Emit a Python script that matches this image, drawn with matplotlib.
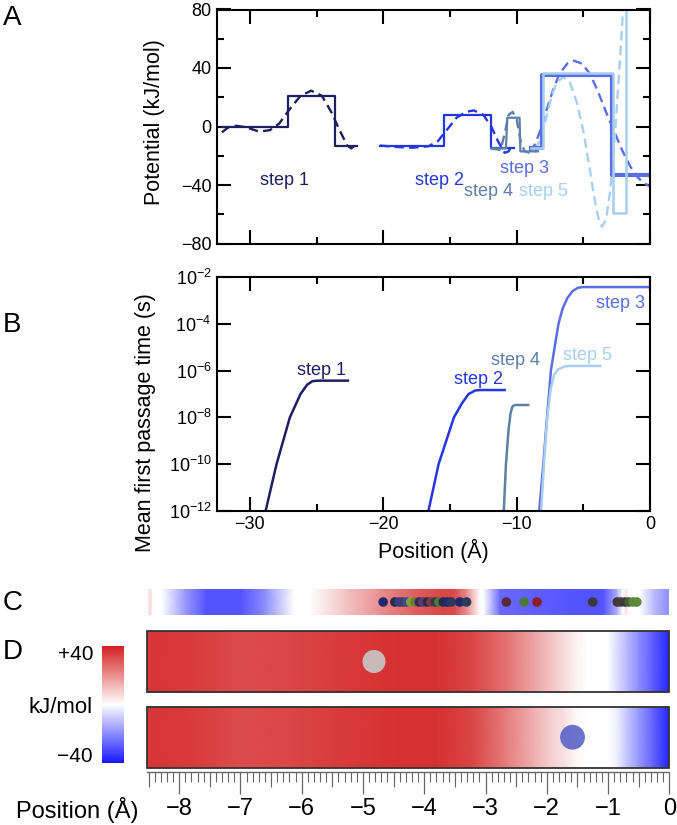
import numpy as np
import matplotlib
matplotlib.use('Agg')
import matplotlib.pyplot as plt
from matplotlib.colors import LinearSegmentedColormap, Normalize
from matplotlib.patches import Rectangle
from matplotlib.ticker import MultipleLocator, FixedLocator, FuncFormatter, NullLocator
import matplotlib.cm as cm

plt.rcParams['font.family'] = ['Liberation Sans', 'DejaVu Sans']
plt.rcParams['mathtext.fontset'] = 'custom'
plt.rcParams['mathtext.rm'] = 'Liberation Sans'
plt.rcParams['mathtext.it'] = 'Liberation Sans:italic'

# ---------------- data ----------------
# panel A: step potentials (solid) and fitted curves (dashed), kJ/mol
s1_x = [-32.1, -27.17, -27.17, -23.64, -23.64, -21.95]
s1_y = [0, 0, 20.7, 20.7, -13, -13]
s1d_x = [-32.1, -31.6, -31.0, -30.3, -29.3, -28.5, -27.8, -27.0, -26.2, -25.4, -24.6, -23.9, -23.3, -22.7, -22.4, -21.95]
s1d_y = [-4, -0.5, 0.5, -0.5, -3.5, -2.5, 2, 12, 21, 24.5, 21, 10, -2, -13, -15, -12]

s2_x = [-20.25, -15.47, -15.47, -11.95, -11.95, -10.2]
s2_y = [-13, -13, 7.8, 7.8, -15, -15]
s2d_x = [-20.25, -19.0, -17.8, -16.6, -15.9, -15.2, -14.5, -13.8, -13.2, -12.5, -11.9, -11.4, -10.9, -10.6, -10.3]
s2d_y = [-13, -14, -14.5, -13.5, -10, -2, 6, 10, 11, 8, 0, -10, -18, -17, -12]

s4_x = [-11.9, -10.8, -10.7, -9.78, -9.72, -8.4]
s4_y = [-15, -15, 6, 6, -17, -17]
s4d_x = [-11.9, -11.2, -10.9, -10.6, -10.3, -10.0, -9.7, -9.4, -9.0, -8.6, -8.3]
s4d_y = [-15, -16, -5, 8, 10, 5, -10, -17, -18, -17, -15]

s3_x = [-8.9, -8.1, -8.1, -2.87, -2.87, 0]
s3_y = [-15, -15, 35, 35, -33, -33]
s3d_x = [-9.0, -8.6, -8.2, -7.8, -7.3, -6.8, -6.2, -5.7, -5.1, -4.5, -3.9, -3.3, -2.7, -2.1, -1.5, -0.9, -0.4, 0]
s3d_y = [-17, -12, -2, 10, 24, 36, 43, 45, 43, 36, 24, 10, -3, -16, -27, -35, -39, -41]

s5_x = [-8.9, -8.02, -8.02, -2.8, -2.8, -1.77, -1.77]
s5_y = [-15, -15, 36.5, 36.5, -59.3, -59.3, 95]
s5d_x = [-8.6, -8.2, -7.8, -7.4, -7.0, -6.5, -6.0, -5.5, -5.0, -4.5, -4.1, -3.8, -3.6, -3.3, -3.0, -2.7, -2.4, -2.15, -2.0]
s5d_y = [-16, -8, 5, 20, 30, 34, 30, 17, -3, -30, -53, -65, -68.5, -64, -45, -15, 25, 60, 85]

# panel B: mean first passage time, log10(seconds)
m1_x = [-28.9, -28.0, -27.0, -26.2, -25.7, -25.3, -24.9, -22.65]
m1_e = [-12.2, -10, -8, -7, -6.6, -6.45, -6.43, -6.43]
m2_x = [-16.65, -15.85, -14.7, -14.1, -13.6, -13.1, -12.7, -10.9]
m2_e = [-12.1, -10, -8, -7.4, -7.0, -6.85, -6.83, -6.83]
m4_x = [-10.97, -10.8, -10.6, -10.45, -10.3, -10.1, -9.13]
m4_e = [-12.1, -10, -8.5, -7.8, -7.52, -7.47, -7.47]
m3_x = [-8.32, -8.0, -7.72, -7.43, -7.15, -6.86, -6.55, -6.2, -5.8, -5.4, -5.0, 0]
m3_e = [-12.1, -10, -8, -6, -5, -4, -3.35, -2.9, -2.6, -2.46, -2.43, -2.43]
m5_x = [-8.17, -7.95, -7.7, -7.45, -7.2, -6.9, -6.4, -6.0, -3.73]
m5_e = [-12.1, -10, -8, -6.8, -6.2, -5.95, -5.82, -5.8, -5.8]

step_names = ['step 1', 'step 2', 'step 3', 'step 4', 'step 5']
step_colors = ['#1c2060', '#2436e0', '#5a6ee6', '#5d7fa8', '#a8cff0']
labA_x = [-27.43, -15.79, -9.44, -12.13, -7.96]
labA_y = [-36.7, -36.7, -28.7, -44.7, -44.7]
labB_x = [-24.61, -12.86, -2.19, -10.1, -4.69]
labB_e = [-6.0, -6.4, -3.14, -5.57, -5.36]

# panel C: electrostatic strip (kJ/mol) and ion positions (Angstrom)
c_pos = [-8.53, -8.47, -8.43, -8.28, -7.9, -7.55, -7.0, -6.6, -6.13, -5.86, -5.3, -4.7, -4.2,
         -3.7, -3.5, -3.3, -3.09, -3.03, -2.76, -1.5, -1.08, -0.85, -0.76, -0.70, -0.66,
         -0.48, -0.25, 0]
c_val = [0, 7, 0, 0, -18, -30, -30, -20, 0, 0, 10, 20, 28,
         33, 32, 20, 0, 0, -26, -30, -30, -14, 0, 5, 0,
         0, -12, -20]
ion_x = [-4.67, -4.48, -4.41, -4.35, -4.28, -4.22, -4.15, -4.08, -4.02, -3.95, -3.89, -3.82,
         -3.76, -3.69, -3.62, -3.56, -3.42, -3.31, -2.66, -2.37, -2.16, -1.25,
         -0.85, -0.79, -0.72, -0.66, -0.59, -0.53]
ion_c = ['#1f2a6e', '#2a2a4a', '#3a3a8a', '#4a3a6a', '#2f4f8f', '#8a9a3a', '#6a7a3a', '#3a2a4a',
         '#5a3a7a', '#2a2a3a', '#7a3a4a', '#3a3a3a', '#4a7a3a', '#2a2a4a', '#1f2a6e', '#2a3a5a',
         '#1f2a6e', '#2a3a5a', '#5a2a3a', '#4a7a3a', '#8a2020', '#3a3a3a',
         '#3a3a3a', '#4a3a3a', '#3a3a3a', '#4a5a3a', '#5a8a3a', '#5a8a3a']

# panel D: potential along the pore for two configurations (kJ/mol)
d_pos = [-8.53, -7.8, -7.0, -6.2, -5.3, -4.4, -3.8, -3.2, -2.65, -2.2, -1.95, -1.7, -1.5,
         -1.35, -1.0, -0.85, -0.7, -0.5, -0.27, 0]
d_val1 = [36, 35, 32, 33, 35, 37, 37, 33, 25, 16, 11, 6, 2, 0, 0, -6, -12, -20, -28, -38]
d_val2 = [36, 35, 32, 33, 35, 37, 37, 33, 23, 14, 9, 5, 1, 0, 0, -3, -10, -18, -27, -38]
sphere_x = [-4.82, -1.58]
sphere_c = ['#c8c8c8', '#5a64c8']

# ---------------- figure ----------------
W, H = 677, 825
fig = plt.figure(figsize=(W / 100, H / 100), dpi=100)

def box(l, t, r, b):
    return [l / W, 1 - b / H, (r - l) / W, (b - t) / H]

cmap = LinearSegmentedColormap.from_list('pot', [(0, '#1a1aff'), (0.5, 'white'), (1, '#d42020')])
norm = Normalize(-40, 40)

def style_ax(ax):
    for s in ax.spines.values():
        s.set_linewidth(1.5)
    ax.tick_params(which='both', direction='in', top=True, right=True, width=1.5, labelsize=13)
    ax.tick_params(which='major', length=10)
    ax.tick_params(which='minor', length=5)
    ax.set_xlim(-32.5, 0)
    ax.xaxis.set_major_locator(MultipleLocator(10))
    ax.xaxis.set_minor_locator(MultipleLocator(5))

# ---- A ----
axA = fig.add_axes(box(216.5, 9.5, 650, 243.5))
style_ax(axA)
dash = (0, (4, 2.2))
solids = [(s1_x, s1_y), (s2_x, s2_y), (s3_x, s3_y), (s4_x, s4_y), (s5_x, s5_y)]
dashed = [(s1d_x, s1d_y), (s2d_x, s2d_y), (s3d_x, s3d_y), (s4d_x, s4d_y), (s5d_x, s5d_y)]
lws = [1.6, 1.6, 3.0, 1.6, 1.8]
for i in [0, 1, 3, 2, 4]:
    axA.plot(*dashed[i], color=step_colors[i], lw=1.7, ls=dash)
for i in [0, 1, 3, 2, 4]:
    axA.plot(*solids[i], color=step_colors[i], lw=lws[i])
for i in range(5):
    axA.text(labA_x[i], labA_y[i], step_names[i], color=step_colors[i], fontsize=13,
             ha='center', va='center')
axA.set_ylim(-80, 80)
axA.yaxis.set_major_locator(MultipleLocator(40))
axA.yaxis.set_minor_locator(MultipleLocator(20))
axA.tick_params(labelbottom=False)
axA.set_ylabel('Potential (kJ/mol)', fontsize=15.5)
axA.yaxis.set_label_coords(-0.118, 0.52)

# ---- B ----
axB = fig.add_axes(box(216.5, 277, 650, 511))
style_ax(axB)
mfpt = [(m1_x, m1_e), (m2_x, m2_e), (m3_x, m3_e), (m4_x, m4_e), (m5_x, m5_e)]
for i in [0, 1, 3, 2, 4]:
    axB.plot(mfpt[i][0], 10.0 ** np.array(mfpt[i][1]), color=step_colors[i], lw=1.8)
for i in range(5):
    axB.text(labB_x[i], 10.0 ** labB_e[i], step_names[i], color=step_colors[i], fontsize=13,
             ha='center', va='center')
axB.set_yscale('log')
axB.set_ylim(1e-12, 1e-2)
axB.yaxis.set_major_locator(FixedLocator([1e-12, 1e-10, 1e-8, 1e-6, 1e-4, 1e-2]))
axB.yaxis.set_minor_locator(NullLocator())
axB.yaxis.set_major_formatter(FuncFormatter(lambda v, p: r'$10^{%d}$' % int(round(np.log10(v)))))
axB.set_xlabel('Position (Å)', fontsize=15.5, labelpad=4)
axB.set_ylabel('Mean first passage time (s)', fontsize=15.5)
axB.yaxis.set_label_coords(-0.14, 0.38)

# ---- C ----
axC = fig.add_axes(box(146.7, 589, 669.3, 615))
cp = np.array(c_pos)
axC.pcolormesh(np.vstack([cp, cp]), np.vstack([np.zeros_like(cp), np.ones_like(cp)]),
               np.vstack([c_val, c_val]), shading='gouraud', cmap=cmap, norm=norm)
axC.scatter(ion_x, [0.5] * len(ion_x), s=48, c=ion_c, edgecolors='none', zorder=3)
axC.set_xlim(-8.53, 0)
axC.set_ylim(0, 1)
axC.axis('off')

# ---- D ----
axD = fig.add_axes(box(146.7, 631, 669.3, 772))
dp = np.array(d_pos)
rows = [(80, 141), (4.5, 65)]
for (y0, y1), vals in zip(rows, [d_val1, d_val2]):
    axD.pcolormesh(np.vstack([dp, dp]), np.vstack([np.full_like(dp, y0), np.full_like(dp, y1)]),
                   np.vstack([vals, vals]), shading='gouraud', cmap=cmap, norm=norm)
    axD.add_patch(Rectangle((-8.53, y0), 8.53, y1 - y0, fill=False, ec='#333333', lw=1.3,
                            clip_on=False, zorder=4))
sizes = [275, 320]
for k in range(2):
    y0, y1 = rows[k]
    axD.scatter(sphere_x[k], (y0 + y1) / 2, s=sizes[k], color=sphere_c[k], alpha=0.9,
                edgecolors='none', zorder=5)
axD.set_xlim(-8.53, 0)
axD.set_ylim(0, 141)
for s in ['top', 'left', 'right']:
    axD.spines[s].set_visible(False)
axD.spines['bottom'].set_color('#666666')
axD.spines['bottom'].set_linewidth(1.0)
axD.set_yticks([])
axD.xaxis.set_major_locator(MultipleLocator(1))
axD.xaxis.set_minor_locator(MultipleLocator(0.1))
axD.tick_params(axis='x', which='major', direction='out', length=16, width=0.9, color='#666666',
                labelsize=17, pad=3)
axD.tick_params(axis='x', which='minor', direction='out', length=7, width=0.8, color='#666666')
half = axD.secondary_xaxis('bottom')
half.set_xticks(np.arange(-8.5, 0, 1.0))
half.tick_params(direction='out', length=11, width=0.8, color='#666666', labelbottom=False)
half.spines['bottom'].set_visible(False)
axD.set_xticks(np.arange(-8, 1, 1))
axD.set_xticklabels(['\u2212%d' % abs(v) if v != 0 else '0' for v in range(-8, 1)])

fig.text(138 / W, 1 - 810 / H, 'Position (Å)', fontsize=17, ha='right', va='center')

# colorbar
cax = fig.add_axes(box(101.7, 646, 124.3, 762.7))
cb = fig.colorbar(cm.ScalarMappable(norm=norm, cmap=cmap), cax=cax, ticks=[])
cb.outline.set_visible(False)
cax.text(-0.38, 0.923, '+40', transform=cax.transAxes, ha='right', va='center', fontsize=15)
cax.text(-0.38, 0.469, 'kJ/mol', transform=cax.transAxes, ha='right', va='center', fontsize=16)
cax.text(-0.38, 0.049, '\u221240', transform=cax.transAxes, ha='right', va='center', fontsize=15)

# panel letters
for letter, yy in zip('ABCD', [18, 325, 603, 652]):
    fig.text(3 / W, 1 - yy / H, letter, fontsize=20, ha='left', va='center')

fig.savefig('out.png', dpi=100)
